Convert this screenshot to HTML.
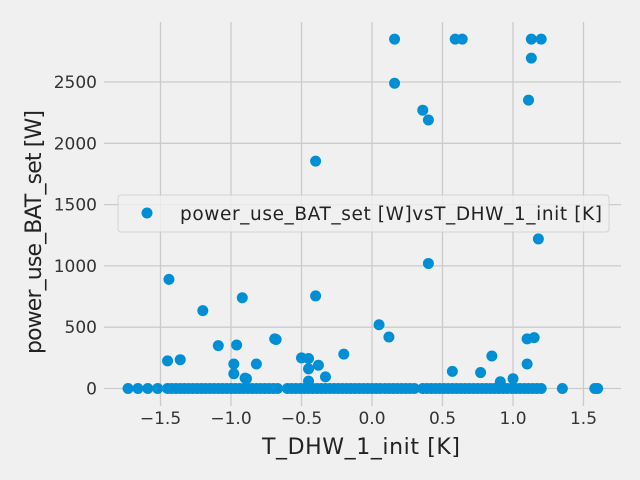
<!DOCTYPE html>
<html><head><meta charset="utf-8"><style>
body{margin:0;background:#f0f0f0;}
svg{display:block;font-family:"DejaVu Sans","Liberation Sans",sans-serif;}
</style></head><body>
<svg id="chart" width="640" height="480" viewBox="0 0 640 480">
<rect width="640" height="480" fill="#f0f0f0"/>
<g id="grid"></g>
<g id="ticks"></g>
<g id="points"></g>
<text x="361" y="454" font-size="22" fill="#222" text-anchor="middle" textLength="198">T_DHW_1_init [K]</text>
<text transform="translate(41,232) rotate(-90)" font-size="22" fill="#222" text-anchor="middle" textLength="244">power_use_BAT_set [W]</text>
<g>
<rect x="118" y="195" width="491" height="37" rx="3" fill="#f0f0f0" fill-opacity="0.8" stroke="#cccccc" stroke-opacity="0.8"/>
<circle cx="147" cy="213" r="5.5" fill="#008fd5"/>
<text x="180" y="220" font-size="18.5" fill="#222" textLength="422">power_use_BAT_set [W]vsT_DHW_1_init [K]</text>
</g>
</svg>
<script>
const xTicks=[-1.5,-1.0,-0.5,0.0,0.5,1.0,1.5];
const yTicks=[0,500,1000,1500,2000,2500];
const nzX=[0.16,0.59,0.64,1.13,1.20,1.13,1.11,0.16,0.36,0.40,-0.40,1.18,0.40,-1.44,-1.20,-0.92,-0.40,0.05,0.12,-0.69,-1.09,-0.96,-1.36,-1.45,-0.98,-0.82,-0.98,-0.89,-0.90,-0.68,-0.50,-0.45,-0.38,-0.45,-0.33,-0.45,-0.20,0.57,0.77,0.85,0.91,1.00,1.10,1.15,1.10];
const nzY=[2850,2850,2850,2850,2850,2695,2352,2490,2270,2190,1855,1220,1020,890,635,740,755,520,420,405,350,355,235,225,200,200,120,80,85,400,250,245,190,160,95,60,280,140,130,265,55,80,405,415,200];
const zX=[-1.73,-1.66,-1.59,-1.52,-1.45,-1.42,-1.39,-1.36,-1.33,-1.30,-1.27,-1.24,-1.21,-1.18,-1.15,-1.12,-1.09,-1.06,-1.03,-1.00,-0.97,-0.94,-0.91,-0.88,-0.85,-0.82,-0.79,-0.76,-0.73,-0.70,-0.67,-0.60,-0.57,-0.54,-0.51,-0.48,-0.45,-0.42,-0.39,-0.36,-0.33,-0.30,-0.27,-0.24,-0.21,-0.18,-0.15,-0.12,-0.09,-0.06,-0.03,0.00,0.03,0.06,0.09,0.12,0.15,0.18,0.21,0.24,0.27,0.30,0.36,0.39,0.42,0.45,0.48,0.51,0.54,0.57,0.60,0.63,0.66,0.69,0.72,0.75,0.78,0.81,0.84,0.87,0.90,0.93,0.96,0.99,1.02,1.05,1.08,1.11,1.14,1.17,1.20,1.35,1.58,1.60];
const zY=zX.map(()=>0);
const NS="http://www.w3.org/2000/svg";
const X=v=>372+v*141, Y=v=>388.5-v*0.1226;
const L=104,R=621,T=22,B=406;
const grid=document.getElementById('grid'),ticks=document.getElementById('ticks'),pts=document.getElementById('points');
function mk(tag,a,p){const e=document.createElementNS(NS,tag);for(const k in a)e.setAttribute(k,a[k]);p.appendChild(e);return e;}
xTicks.forEach(t=>{
 const l=mk('line',{x1:X(t),x2:X(t),y1:T,y2:B,stroke:'#cbcbcb','stroke-width':1.3},grid);
 
 
 const s=mk('text',{x:X(t),y:424,'font-size':17,fill:'#333','text-anchor':'middle'},ticks);
 s.textContent=(t<0?'\u2212':'')+Math.abs(t).toFixed(1);
 
 
});
yTicks.forEach(t=>{
 const l=mk('line',{x1:L,x2:R,y1:Y(t),y2:Y(t),stroke:'#cbcbcb','stroke-width':1.3},grid);
 
 
 const s=mk('text',{x:97,y:Y(t)+6,'font-size':17,fill:'#333','text-anchor':'end'},ticks);
 s.textContent=t;
 
 
});
function draw(xs,ys){xs.forEach((x,i)=>{
 const c=mk('circle',{cx:X(x),cy:Y(ys[i]),r:5.5,fill:'#008fd5'},pts);
 
 
});}
draw(zX,zY);draw(nzX,nzY);
</script>
</body></html>
